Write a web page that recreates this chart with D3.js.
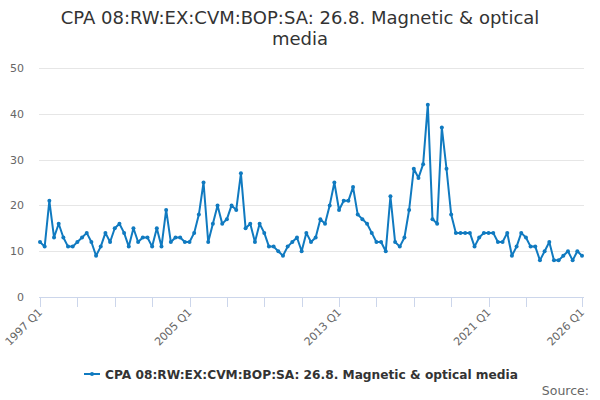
<!DOCTYPE html>
<html>
<head>
<meta charset="utf-8">
<script src="https://cdnjs.cloudflare.com/ajax/libs/d3/7.8.5/d3.min.js"></script>
<style>
  body { margin: 0; background: #ffffff; }
  svg { font-family: "DejaVu Sans", Verdana, sans-serif; }
</style>
</head>
<body>
<svg id="chart" width="600" height="400"></svg>
<script>
const titleLines = ["CPA 08:RW:EX:CVM:BOP:SA: 26.8. Magnetic & optical", "media"];
const seriesName = "CPA 08:RW:EX:CVM:BOP:SA: 26.8. Magnetic & optical media";
const sourceText = "Source:";

// quarterly values, 1997 Q1 .. 2026 Q1
const values = [
  12, 11, 21, 13,   16, 13, 11, 11,   12, 13, 14, 12,   9, 11, 14, 12,
  15, 16, 14, 11,   15, 12, 13, 13,   11, 15, 11, 19,   12, 13, 13, 12,
  12, 14, 18, 25,   12, 16, 20, 16,   17, 20, 19, 27,   15, 16, 12, 16,
  14, 11, 11, 10,   9, 11, 12, 13,    10, 14, 12, 13,   17, 16, 20, 25,
  19, 21, 21, 24,   18, 17, 16, 14,   12, 12, 10, 22,   12, 11, 13, 19,
  28, 26, 29, 42,   17, 16, 37, 28,   18, 14, 14, 14,   14, 11, 13, 14,
  14, 14, 12, 12,   14, 9, 11, 14,    13, 11, 11, 8,    10, 12, 8, 8,
  9, 10, 8, 10,     9
];
const firstYear = 1997;
const categories = values.map((v, i) => (firstYear + Math.floor(i / 4)) + " Q" + (i % 4 + 1));
const yTicks = [0, 10, 20, 30, 40, 50];
const labelCats = ["1997 Q1", "2005 Q1", "2013 Q1", "2021 Q1", "2026 Q1"];
const tickCats = ["1997 Q1", "1999 Q1", "2001 Q1", "2003 Q1", "2005 Q1", "2007 Q1", "2009 Q1",
                  "2011 Q1", "2013 Q1", "2015 Q1", "2017 Q1", "2019 Q1", "2021 Q1", "2023 Q1", "2026 Q1"];

const lineColor = "#107ac0";
const svg = d3.select("#chart");

const plotL = 40, plotR = 582, plotT = 68, plotB = 297;

const x = d3.scalePoint().domain(categories).range([plotL, plotR]);
const y = d3.scaleLinear().domain([0, 50]).range([plotB, plotT]);

// title
svg.append("g").selectAll("text")
  .data(titleLines)
  .enter().append("text")
    .attr("x", 300)
    .attr("y", (d, i) => 24 + i * 21)
    .attr("text-anchor", "middle")
    .attr("font-size", "18px")
    .attr("fill", "#333333")
    .text(d => d);

// gridlines + y labels
const yAxis = svg.append("g");
yAxis.selectAll("line")
  .data(yTicks.filter(d => d > 0))
  .enter().append("line")
    .attr("x1", plotL - 1).attr("x2", plotR + 2)
    .attr("y1", d => Math.round(y(d)) + 0.5).attr("y2", d => Math.round(y(d)) + 0.5)
    .attr("stroke", "#e6e6e6").attr("stroke-width", 1);
yAxis.selectAll("text")
  .data(yTicks)
  .enter().append("text")
    .attr("x", 24)
    .attr("y", d => y(d) + 4)
    .attr("text-anchor", "end")
    .attr("font-size", "11px")
    .attr("fill", "#666666")
    .text(d => d);

// x axis
const xAxis = svg.append("g");
xAxis.append("line")
  .attr("x1", plotL - 1).attr("x2", plotR + 2)
  .attr("y1", plotB + 0.5).attr("y2", plotB + 0.5)
  .attr("stroke", "#ccd6eb");
xAxis.selectAll("line.tick")
  .data(tickCats)
  .enter().append("line")
    .attr("class", "tick")
    .attr("x1", d => Math.round(x(d)) + 0.5).attr("x2", d => Math.round(x(d)) + 0.5)
    .attr("y1", plotB).attr("y2", plotB + 10)
    .attr("stroke", "#ccd6eb");
xAxis.selectAll("text")
  .data(labelCats)
  .enter().append("text")
    .attr("transform", d => "translate(" + (x(d) + 3) + "," + (plotB + 16) + ") rotate(-45)")
    .attr("text-anchor", "end")
    .attr("font-size", "11px")
    .attr("fill", "#666666")
    .text(d => d);

// series
const line = d3.line()
  .x((d, i) => x(categories[i]))
  .y(d => y(d));

svg.append("path")
  .datum(values)
  .attr("d", line)
  .attr("fill", "none")
  .attr("stroke", lineColor)
  .attr("stroke-width", 2)
  .attr("stroke-linejoin", "round");

svg.append("g").selectAll("circle")
  .data(values)
  .enter().append("circle")
    .attr("cx", (d, i) => x(categories[i]))
    .attr("cy", d => y(d))
    .attr("r", 2)
    .attr("fill", lineColor);

// legend
const legend = svg.append("g").attr("transform", "translate(84,374)");
legend.append("line")
  .attr("x1", 0).attr("x2", 16).attr("y1", 0).attr("y2", 0)
  .attr("stroke", lineColor).attr("stroke-width", 2);
legend.append("circle")
  .attr("cx", 8).attr("cy", 0).attr("r", 2).attr("fill", lineColor);
legend.append("text")
  .attr("x", 21).attr("y", 4.5)
  .attr("font-size", "12.2px")
  .attr("font-weight", "bold")
  .attr("fill", "#333333")
  .text(seriesName);

// credits
svg.append("text")
  .attr("x", 589).attr("y", 395)
  .attr("text-anchor", "end")
  .attr("font-size", "12.5px")
  .attr("fill", "#666666")
  .text(sourceText);
</script>
</body>
</html>
